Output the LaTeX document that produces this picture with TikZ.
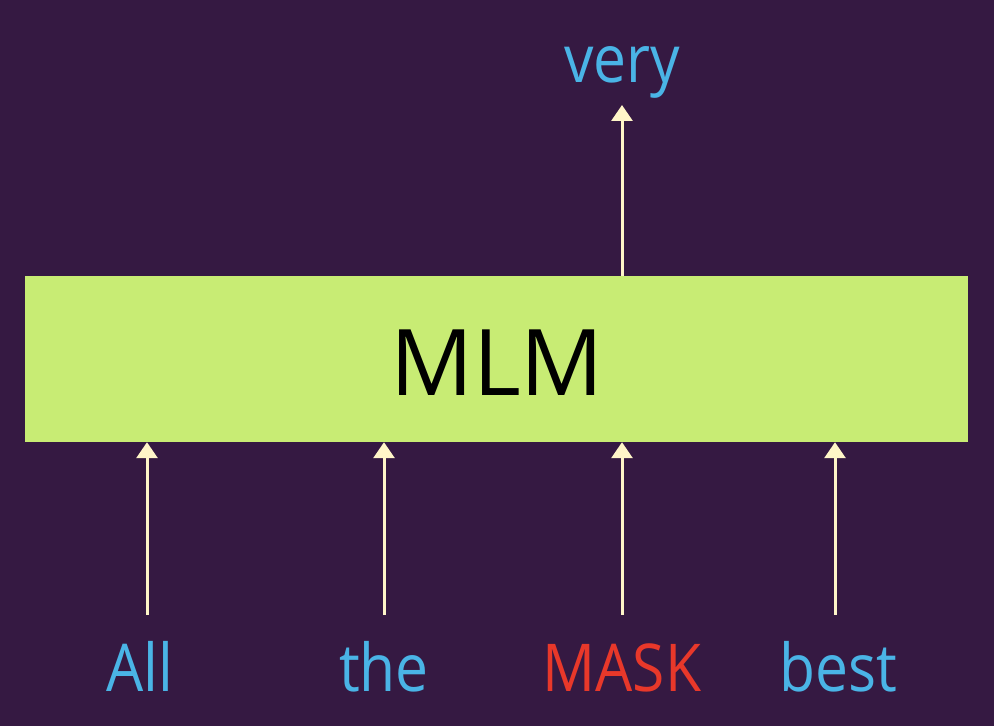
\documentclass[tikz,border=0pt]{standalone}
\usepackage{fontspec}
\usepackage{graphicx}
\setmainfont{Open Sans}
\usetikzlibrary{arrows.meta}
\definecolor{bgc}{RGB}{53,25,66}
\definecolor{boxc}{RGB}{200,236,116}
\definecolor{arrc}{RGB}{255,245,200}
\definecolor{bluec}{RGB}{74,180,230}
\definecolor{redc}{RGB}{232,56,42}
\newcommand{\narrowtxt}[1]{\scalebox{0.89}[1]{#1}}
\tikzset{
  x=1pt,y=1pt,
  word/.style={anchor=base,inner sep=0pt,font=\fontsize{66}{66}\selectfont,text=bluec},
  maskword/.style={word,text=redc},
  modelbox/.style={fill=boxc,draw=none,minimum width=943pt,minimum height=166pt,inner sep=0pt},
  flow/.style={draw=arrc,line width=3pt,-{Triangle[width=21pt,length=16pt]}}
}
\begin{document}
\begin{tikzpicture}
\fill[bgc] (0,0) rectangle (994,726);
\useasboundingbox (0,0) rectangle (994,726);
\node[modelbox] (mlm) at (496.5,367) {};
\node[anchor=base,inner sep=0pt,font=\fontsize{92}{92}\selectfont] (lbl) at (497,330) {MLM};
\node[word] (w1) at (140,34) {\narrowtxt{All}};
\node[word] (w2) at (384,34) {\narrowtxt{the}};
\node[maskword] (w3) at (622,34) {\narrowtxt{MASK}};
\node[word] (w4) at (838,34) {\narrowtxt{best}};
\node[word] (out) at (622,643) {\narrowtxt{very}};
\coordinate (s1) at (147,111);
\coordinate (s2) at (384,111);
\coordinate (s3) at (622,111);
\coordinate (s4) at (835,111);
\coordinate (ub) at (622,450);
\coordinate (ut) at (622,621);
\draw[flow] (s1) -- (mlm.south -| s1);
\draw[flow] (s2) -- (mlm.south -| s2);
\draw[flow] (s3) -- (mlm.south -| s3);
\draw[flow] (s4) -- (mlm.south -| s4);
\draw[flow] (ub) -- (ut);
\end{tikzpicture}
\end{document}
